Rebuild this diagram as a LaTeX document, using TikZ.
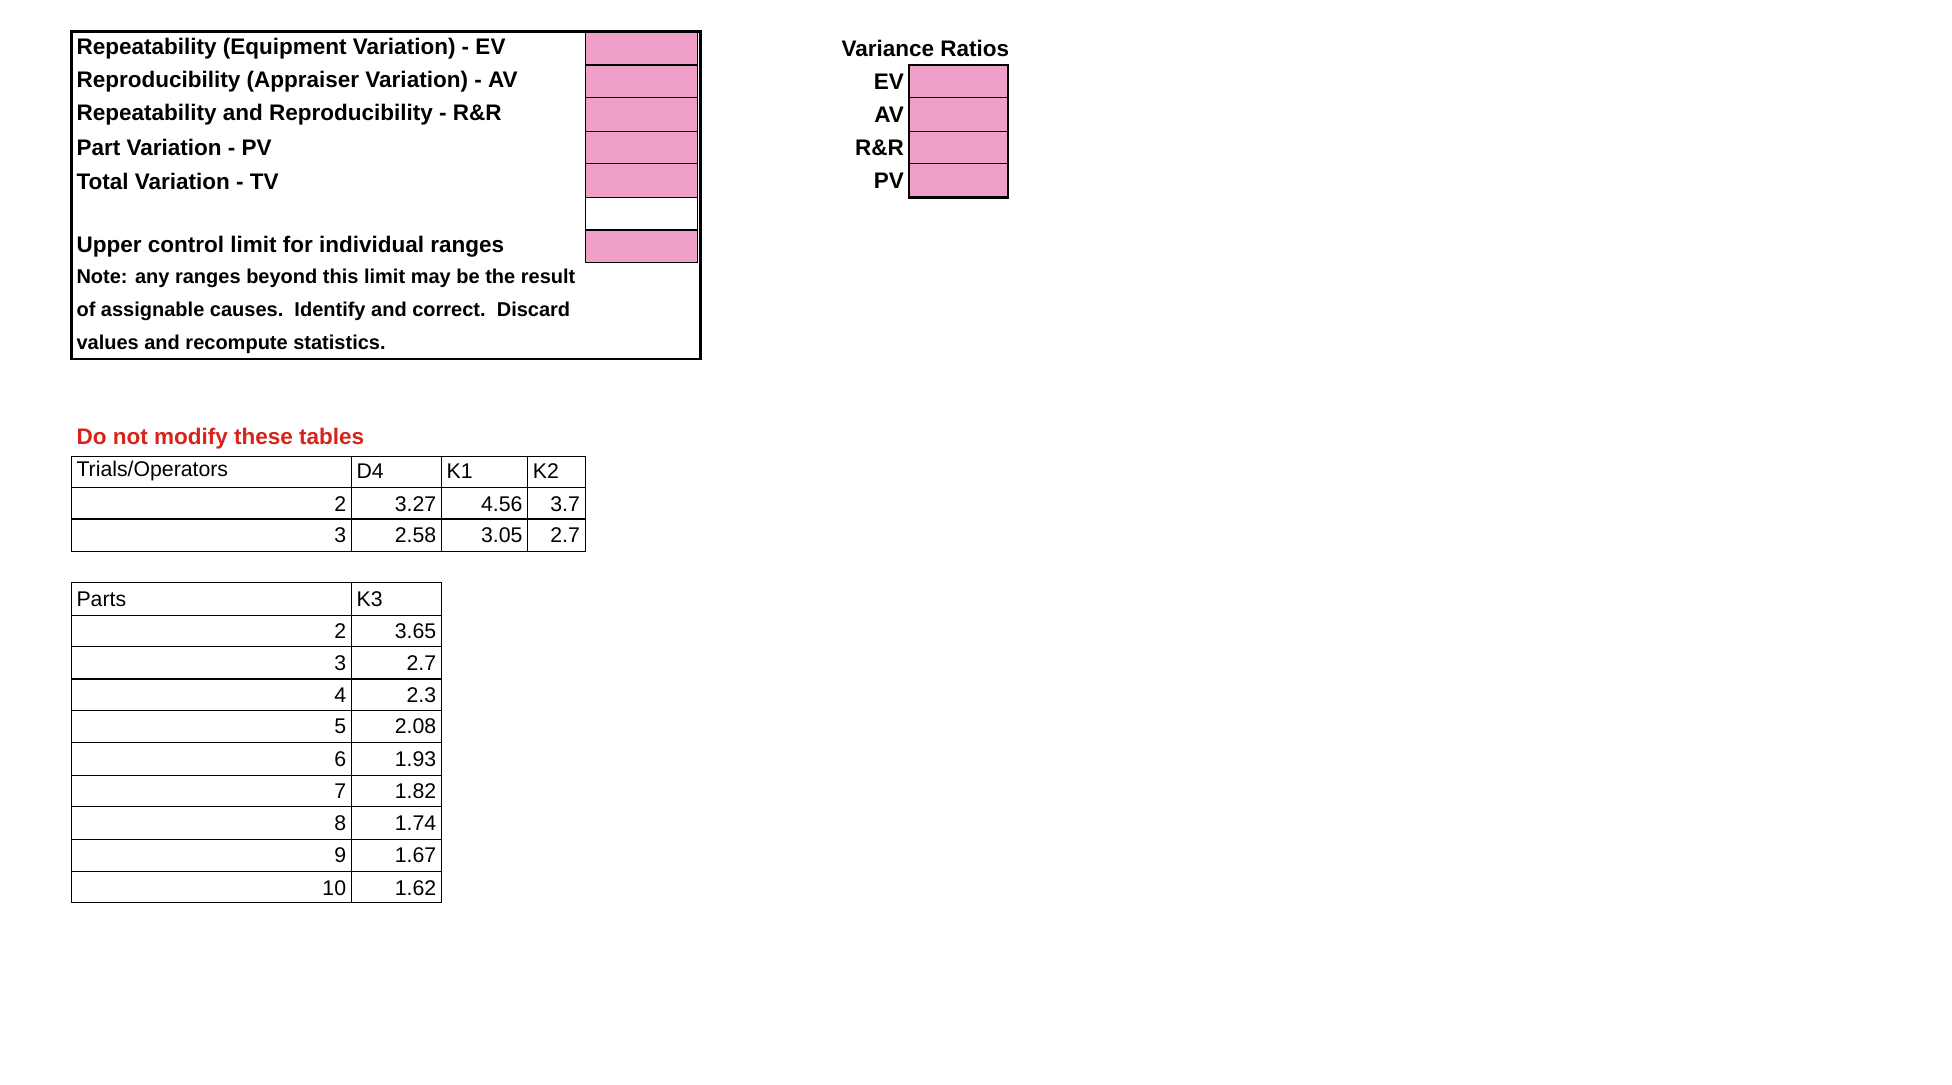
\documentclass[tikz,border=0pt]{standalone}
\usepackage{fontspec}
\setmainfont{Liberation Sans}
\definecolor{pk}{RGB}{240,160,200}
\definecolor{rd}{RGB}{215,35,25}
\begin{document}
\begin{tikzpicture}[x=1pt,y=-1pt,
  lbl/.style={anchor=west,inner sep=0,font=\fontsize{18}{20}\selectfont\bfseries},
  note/.style={anchor=west,inner sep=0,font=\fontsize{16}{18}\selectfont\bfseries},
  cell/.style={inner sep=0,font=\fontsize{17}{19}\selectfont},
  pinkbox/.style={fill=pk,draw=black,line width=1pt}]
\useasboundingbox (0,0) rectangle (1561,867);
% top box
\foreach \a/\b in {25/52,52/78,78/105,105/131,131/158,184/210}
  \draw[pinkbox] (468,\a) rectangle (558,\b);
\draw[line width=0.8pt] (468,158) rectangle (558,184);
\draw[line width=2pt] (57,25) rectangle (560,287);
\node[lbl] (l1) at (61,39) {Repeatability (Equipment Variation) - EV};
\node[lbl] (l2) at (61,65) {Reproducibility (Appraiser Variation) - AV};
\node[lbl] (l3) at (61,92) {Repeatability and Reproducibility - R\&R};
\node[lbl] (l4) at (61,118) {Part Variation - PV};
\node[lbl] (l5) at (61,145) {Total Variation - TV};
\node[lbl] (l6) at (61,197) {Upper control limit for individual ranges};
\node[note] (n1) at (61,223) {Note: any ranges beyond this limit may be the result};
\node[note] (n2) at (61,249) {of assignable causes.\ \ Identify and correct.\ \ Discard};
\node[note] (n3) at (61,275) {values and recompute statistics.};
% variance ratios
\node[lbl,anchor=center] (vr) at (740,39) {Variance Ratios};
\foreach \a/\b/\t in {52/78/EV,78/105/AV,105/131/R\&R,131/158/PV}{
  \draw[pinkbox] (727,\a) rectangle (806,\b);
  \node[lbl,anchor=east] at (723,{(\a+\b)/2}) {\t};}
\draw[line width=2pt] (727,52) -- (727,158) -- (806,158) -- (806,52);
% red title
\node[lbl,anchor=west,text=rd] (dn) at (61,351) {Do not modify these tables};
% table 1
\begin{scope}[line width=0.9pt]
\draw (57,365) rectangle (468,441);
\foreach \y in {390,415} \draw (57,\y) -- (468,\y);
\foreach \x in {281,353,422} \draw (\x,365) -- (\x,441);
\end{scope}
\node[cell,anchor=west] (t1h) at (61,377) {Trials/Operators};
\node[cell,anchor=west] at (285,377) {D4};
\node[cell,anchor=west] at (357,377) {K1};
\node[cell,anchor=west] at (426,377) {K2};
\foreach \y/\n/\d/\k/\kk in {403/2/3.27/4.56/3.7,428/3/2.58/3.05/2.7}{
  \node[cell,anchor=east] at (277,\y) {\n};
  \node[cell,anchor=east] at (349,\y) {\d};
  \node[cell,anchor=east] at (418,\y) {\k};
  \node[cell,anchor=east] at (464,\y) {\kk};}
% table 2
\begin{scope}[line width=0.9pt]
\draw (57,466) rectangle (353,722);
\foreach \y in {492,517,543,568,594,620,645,671,697} \draw (57,\y) -- (353,\y);
\draw (281,466) -- (281,722);
\end{scope}
\node[cell,anchor=west] (t2h) at (61,479) {Parts};
\node[cell,anchor=west] at (285,479) {K3};
\foreach \y/\n/\k in {505/2/3.65,530/3/2.7,556/4/2.3,581/5/2.08,607/6/1.93,633/7/1.82,658/8/1.74,684/9/1.67,710/10/1.62}{
  \node[cell,anchor=east] at (277,\y) {\n};
  \node[cell,anchor=east] at (349,\y) {\k};}
\end{tikzpicture}
\end{document}
